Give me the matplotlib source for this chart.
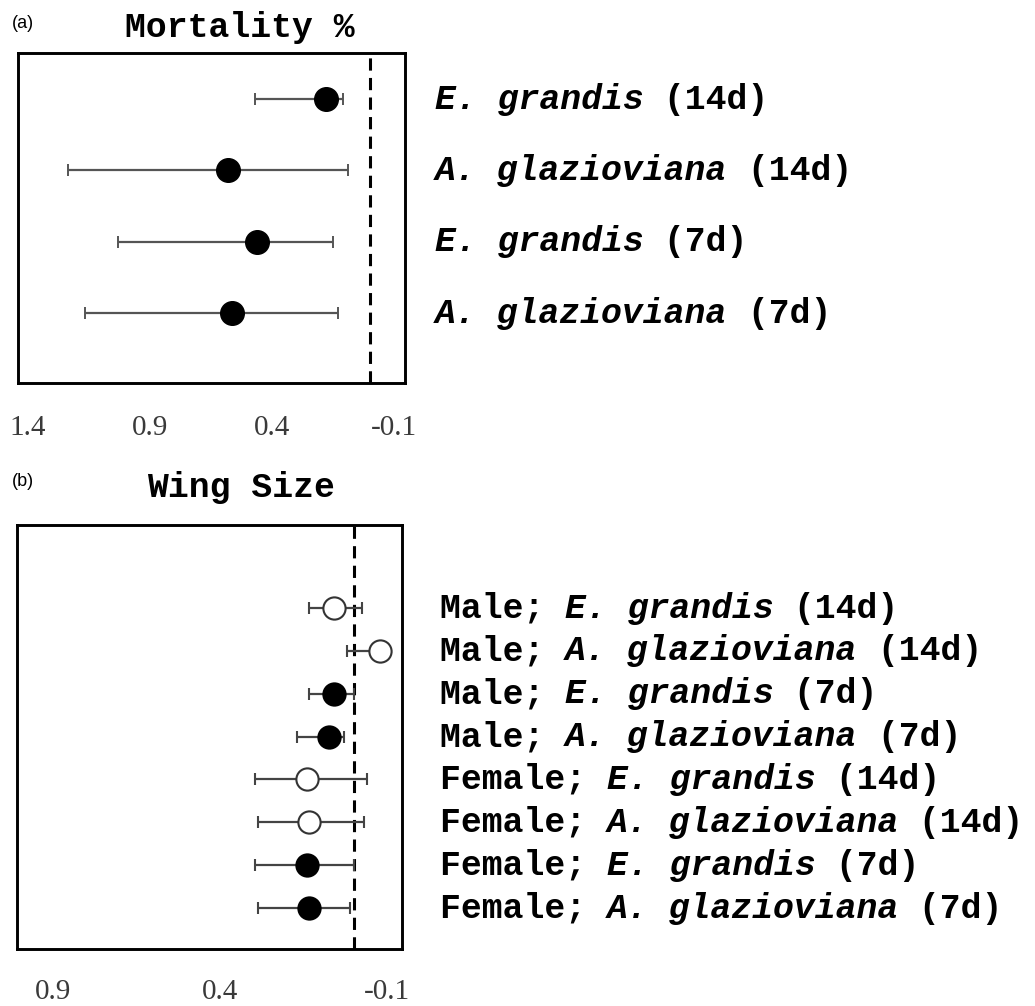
import matplotlib
matplotlib.use("Agg")
import matplotlib.pyplot as plt
import matplotlib.transforms as mtransforms

# ---------------- data ----------------
mort_labels = [("E. grandis", " (14d)"), ("A. glazioviana", " (14d)"),
               ("E. grandis", " (7d)"), ("A. glazioviana", " (7d)")]
mort_est = [0.18, 0.58, 0.46, 0.565]
mort_lo = [0.11, 0.09, 0.15, 0.13]
mort_hi = [0.47, 1.235, 1.03, 1.165]
mort_ticks = [1.4, 0.9, 0.4, -0.1]

wing_sex = ["Male; ", "Male; ", "Male; ", "Male; ",
            "Female; ", "Female; ", "Female; ", "Female; "]
wing_species = ["E. grandis", "A. glazioviana", "E. grandis", "A. glazioviana",
                "E. grandis", "A. glazioviana", "E. grandis", "A. glazioviana"]
wing_time = [" (14d)", " (14d)", " (7d)", " (7d)", " (14d)", " (14d)", " (7d)", " (7d)"]
wing_est = [0.06, -0.08, 0.06, 0.075, 0.14, 0.135, 0.14, 0.135]
wing_lo = [-0.025, -0.1, 0.0, 0.03, -0.04, -0.03, 0.0, 0.01]
wing_hi = [0.135, 0.02, 0.135, 0.17, 0.295, 0.285, 0.295, 0.285]
wing_open = [True, True, False, False, True, True, False, False]
wing_ticks = [0.9, 0.4, -0.1]

# ---------------- style ----------------
W, H = 1035, 1006
DPI = 100
MONO = "Liberation Mono"
FS_LAB = 25
CHAR_PT = 0.6 * FS_LAB

fig = plt.figure(figsize=(W / DPI, H / DPI), dpi=DPI)


def px_axes(left, top, right, bottom):
    return fig.add_axes([left / W, 1 - bottom / H, (right - left) / W, (bottom - top) / H])


def style_axes(ax, ticks, xlim, ylim, tick_y_px):
    ax.set_xlim(*xlim)
    ax.set_ylim(*ylim)
    ax.set_yticks([])
    ax.set_xticks(ticks)
    ax.set_xticklabels([])
    ax.tick_params(axis="x", length=0)
    for s in ax.spines.values():
        s.set_linewidth(2.1)
        s.set_color("black")
    ax.axvline(0, color="black", lw=2.2, ls=(0, (4, 2.4)), zorder=1)
    # tick labels
    bb = ax.get_position()
    ybot = (1 - bb.y0) * H
    yax = (ybot - tick_y_px) / (bb.height * H)
    for t in ticks:
        ax.text(t, yax, f"{t:g}", transform=ax.get_xaxis_transform(),
                ha="center", va="center", fontsize=21, family="Liberation Serif",
                color="#3a3a3a", clip_on=False)


def rich_label(ax, x_axes, y, parts):
    base = mtransforms.blended_transform_factory(ax.transAxes, ax.transData)
    offset = 0
    for txt, italic in parts:
        tr = mtransforms.offset_copy(base, fig=fig, x=offset * CHAR_PT, y=0, units="points")
        ax.text(x_axes, y, txt, transform=tr, ha="left", va="center",
                fontsize=FS_LAB, family=MONO, weight="bold",
                style="italic" if italic else "normal", clip_on=False)
        offset += len(txt)


# ---------------- panel (a) ----------------
axa = px_axes(18, 53, 405, 383)
n = len(mort_est)
ya = list(range(n, 0, -1))
style_axes(axa, mort_ticks, (1.441, -0.145), (0.02, 4.645), 428)
for i in range(n):
    axa.errorbar(mort_est[i], ya[i],
                 xerr=[[mort_est[i] - mort_lo[i]], [mort_hi[i] - mort_est[i]]],
                 fmt="o", color="#555555", ecolor="#555555", elinewidth=1.6,
                 capsize=4, capthick=1.4, ms=17, mfc="black", mec="black", zorder=3)
la_x = (435 - 18) / (405 - 18)
for i, (sp, tm) in enumerate(mort_labels):
    rich_label(axa, la_x, ya[i], [(sp, True), (tm, False)])

fig.text(240 / W, 1 - 27 / H, "Mortality %", ha="center", va="center",
         fontsize=25, family=MONO, weight="bold")
fig.text(12 / W, 1 - 24 / H, "(a)", ha="left", va="center", fontsize=13,
         family="Liberation Sans")

# ---------------- panel (b) ----------------
axb = px_axes(17, 525, 402, 949)
m = len(wing_est)
yb = list(range(m, 0, -1))
style_axes(axb, wing_ticks, (1.008, -0.145), (0.043, 9.94), 992)
for i in range(m):
    axb.errorbar(wing_est[i], yb[i],
                 xerr=[[wing_est[i] - wing_lo[i]], [wing_hi[i] - wing_est[i]]],
                 fmt="o", color="#444444", ecolor="#444444", elinewidth=1.6,
                 capsize=4, capthick=1.4, ms=16,
                 mfc="white" if wing_open[i] else "black",
                 mec="#333333" if wing_open[i] else "black", mew=1.5, zorder=3)
lb_x = (440 - 17) / (402 - 17)
for i in range(m):
    rich_label(axb, lb_x, yb[i], [(wing_sex[i], False), (wing_species[i], True),
                                  (wing_time[i], False)])

fig.text(241 / W, 1 - 488 / H, "Wing Size", ha="center", va="center",
         fontsize=25, family=MONO, weight="bold")
fig.text(12 / W, 1 - 481 / H, "(b)", ha="left", va="center", fontsize=13,
         family="Liberation Sans")

fig.savefig("out.png", dpi=DPI)
